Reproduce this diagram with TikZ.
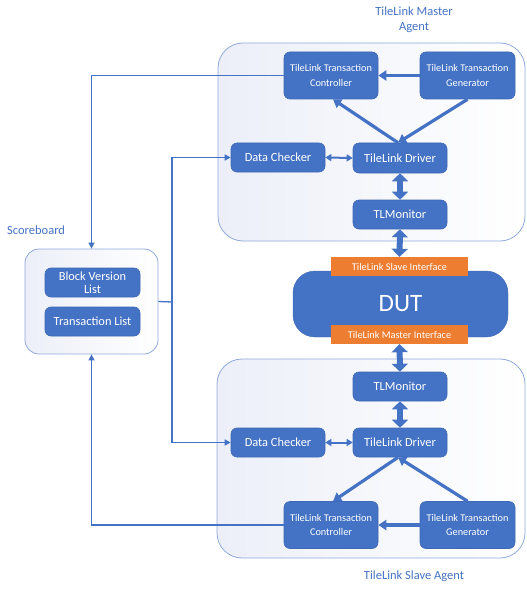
\documentclass[tikz,border=0pt]{standalone}
\usepackage{fontspec}
\setmainfont{Carlito}
\usetikzlibrary{arrows.meta}
\definecolor{obl}{HTML}{4472C4}
\definecolor{obd}{HTML}{3E68B5}
\definecolor{oor}{HTML}{ED7D31}
\definecolor{agb}{HTML}{8FAADC}
\definecolor{agf}{HTML}{ECEFF8}
\tikzset{
  blk/.style={draw=obd, fill=obl, rounded corners=6bp, text=white, align=center,
    inner sep=0pt, line width=0.6bp, minimum width=94bp, minimum height=29bp,
    font=\fontsize{12.4bp}{14bp}\selectfont},
  blks/.style={blk, minimum height=47bp, font=\fontsize{10.3bp}{14.5bp}\selectfont},
  agent/.style={draw=agb, line width=0.8bp, rounded corners=25bp, left color=agf, right color=white,
    inner sep=0pt},
  iface/.style={fill=oor, text=white, inner sep=0pt, minimum width=137bp, minimum height=19bp,
    font=\fontsize{10.3bp}{12bp}\selectfont},
  lbl/.style={text=obl, align=center, inner sep=0pt, font=\fontsize{12.5bp}{15bp}\selectfont},
  bigarr/.style={draw=obl, line width=6bp, arrows={Triangle[width=16bp,length=8bp]-Triangle[width=16bp,length=8bp]}},
  medarr/.style={draw=obl, line width=3.2bp, arrows={-Triangle[width=10bp,length=8bp]}},
  dcarr/.style={draw=obl, line width=2bp, arrows={Triangle[width=7bp,length=6bp]-Triangle[width=7bp,length=6bp]}},
  thinarr/.style={draw=obl, line width=1.3bp, arrows={-Triangle[width=6bp,length=6bp]}},
  thinln/.style={draw=obl, line width=1.3bp}
}
\begin{document}
\begin{tikzpicture}[x=1bp,y=-1bp]
\useasboundingbox (0,0) rectangle (527,590);

% containers
\node[agent, minimum width=307bp, minimum height=198bp] (mbox) at (371.5,142) {};
\node[agent, minimum width=308bp, minimum height=199bp] (sbox) at (371,458.5) {};
\node[agent, rounded corners=14bp, minimum width=133bp, minimum height=105bp] (sb) at (91.5,301.5) {};

% labels
\node[lbl] (mlbl) at (414,19.5) {TileLink Master\\Agent};
\node[lbl] (slbl) at (414,576) {TileLink Slave Agent};
\node[lbl, anchor=west] (sblbl) at (7,230) {Scoreboard};

% master agent
\node[blks] (mctrl) at (331,75.5) {TileLink Transaction\\Controller};
\node[blks, minimum width=95bp] (mgen) at (467.5,75.5) {TileLink Transaction\\Generator};
\node[blk] (mdc) at (278,157.5) {Data Checker};
\node[blk, minimum height=30bp] (mdrv) at (400,158) {TileLink Driver};
\node[blk] (mmon) at (400,214.5) {TLMonitor};

% DUT
\node[draw=obd, fill=obl, rounded corners=22bp, minimum width=215bp, minimum height=66bp,
  inner sep=0pt, text=white, font=\fontsize{25bp}{28bp}\selectfont] (dut) at (400.5,304) {DUT};
\node[iface] (sif) at (399.5,266.5) {TileLink Slave Interface};
\node[iface] (mif) at (399.5,334.5) {TileLink Master Interface};

% slave agent
\node[blk] (smon) at (400,386.5) {TLMonitor};
\node[blk] (sdrv) at (400,442.5) {TileLink Driver};
\node[blk] (sdc) at (278,442.5) {Data Checker};
\node[blks] (sctrl) at (331,525) {TileLink Transaction\\Controller};
\node[blks, minimum width=95bp] (sgen) at (467.5,525) {TileLink Transaction\\Generator};

% scoreboard contents
\node[blk, minimum width=95bp] (bvl) at (92.5,282.5) {Block Version\\[-1bp]List};
\node[blk, minimum width=95bp] (tl) at (92.5,321.5) {Transaction List};

% thick connectors
\draw[medarr] (mgen.west) -- (mctrl.east);
\draw[medarr] ([xshift=-2bp]mdrv.north) -- ([xshift=2bp]mctrl.south);
\draw[medarr] (mgen.south) -- ([xshift=-2bp]mdrv.north);
\draw[dcarr] (mdc.east) -- (mdrv.west);
\draw[bigarr] (mdrv.south) -- (mmon.north);
\draw[bigarr] (mmon.south) -- (sif.north);
\draw[bigarr] (mif.south) -- (smon.north);
\draw[bigarr] (smon.south) -- (sdrv.north);
\draw[dcarr] (sdc.east) -- (sdrv.west);
\draw[medarr] ([xshift=-2bp]sdrv.south) -- ([xshift=2bp]sctrl.north);
\draw[medarr] (sgen.north) -- ([xshift=-2bp]sdrv.south);
\draw[medarr] (sgen.west) -- (sctrl.east);

% scoreboard connectors
\coordinate (j) at (172,302);
\draw[thinarr] (mctrl.west) -| (sb.north);
\draw[thinarr] (sctrl.west) -| (sb.south);
\draw[thinln] (sb.east) -- (j);
\draw[thinarr] (j) |- (mdc.west);
\draw[thinarr] (j) |- (sdc.west);
\end{tikzpicture}
\end{document}
